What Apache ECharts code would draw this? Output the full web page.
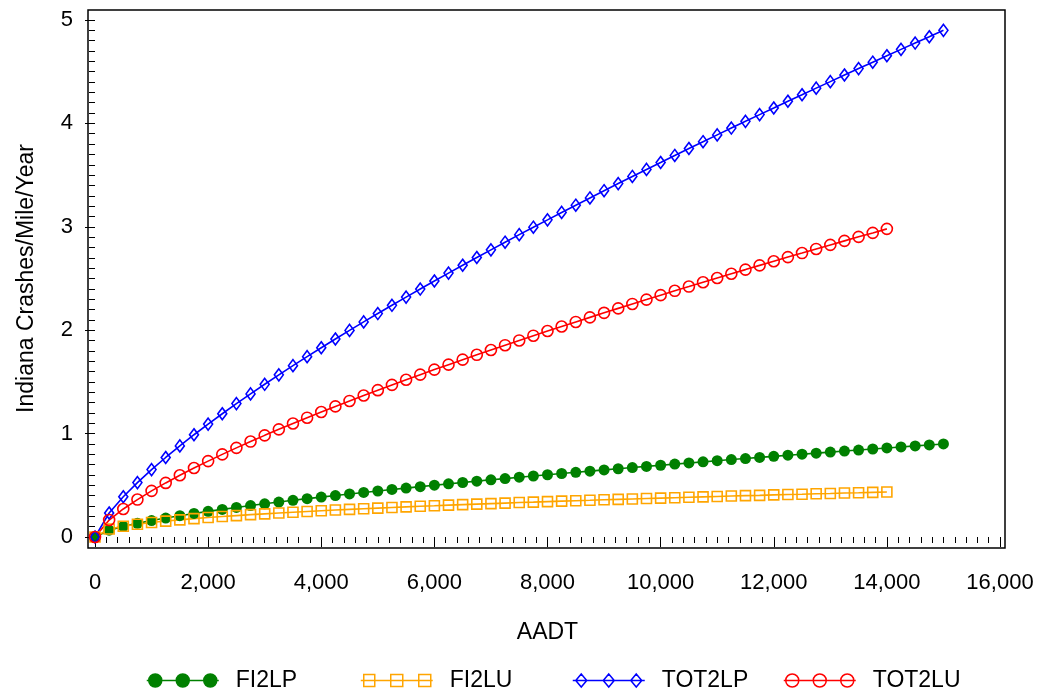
<!DOCTYPE html>
<html>
<head>
<meta charset="utf-8">
<script src="https://cdn.jsdelivr.net/npm/echarts@6/dist/echarts.min.js"></script>
<style>html,body{margin:0;padding:0;background:#fff;}#c{width:1044px;height:694px;}</style>
</head>
<body>
<div id="c"></div>
<script>
// AADT values (x)
var aadt = [0,250,500,750,1000,1250,1500,1750,2000,2250,2500,2750,3000,3250,3500,3750,4000,4250,4500,4750,5000,5250,5500,5750,6000,6250,6500,6750,7000,7250,7500,7750,8000,8250,8500,8750,9000,9250,9500,9750,10000,10250,10500,10750,11000,11250,11500,11750,12000,12250,12500,12750,13000,13250,13500,13750,14000,14250,14500,14750,15000];
var fi2lp = [0,0.066,0.102,0.132,0.159,0.183,0.206,0.228,0.248,0.267,0.286,0.304,0.321,0.338,0.355,0.371,0.386,0.401,0.416,0.431,0.445,0.460,0.473,0.487,0.501,0.514,0.527,0.540,0.553,0.565,0.578,0.590,0.602,0.614,0.626,0.637,0.649,0.660,0.672,0.683,0.694,0.705,0.716,0.727,0.738,0.749,0.759,0.770,0.780,0.791,0.801,0.811,0.821,0.831,0.841,0.851,0.861,0.871,0.881,0.890,0.900];
var fi2lu = [0,0.077,0.104,0.124,0.140,0.154,0.166,0.178,0.188,0.198,0.207,0.216,0.224,0.232,0.240,0.247,0.254,0.261,0.267,0.273,0.279,0.285,0.291,0.297,0.302,0.308,0.313,0.318,0.323,0.328,0.333,0.337,0.342,0.347,0.351,0.355,0.360,0.364,0.368,0.372,0.376,0.380,0.384,0.388,0.392,0.396,0.400,0.403,0.407,0.411,0.414,0.418,0.421,0.425,0.428,0.432,0.435];
var tot2lp = [0,0.232,0.389,0.526,0.652,0.769,0.881,0.989,1.092,1.192,1.290,1.384,1.477,1.568,1.657,1.744,1.830,1.915,1.998,2.080,2.161,2.241,2.320,2.398,2.476,2.552,2.628,2.703,2.777,2.851,2.924,2.996,3.067,3.139,3.209,3.279,3.349,3.418,3.487,3.555,3.622,3.690,3.757,3.823,3.889,3.955,4.020,4.085,4.149,4.214,4.277,4.341,4.404,4.468,4.530,4.592,4.654,4.716,4.777,4.838,4.900];
var tot2lu = [0,0.164,0.271,0.362,0.446,0.523,0.597,0.667,0.734,0.799,0.862,0.923,0.983,1.041,1.098,1.154,1.209,1.263,1.316,1.368,1.420,1.471,1.521,1.570,1.619,1.667,1.715,1.762,1.809,1.855,1.901,1.947,1.992,2.036,2.080,2.124,2.168,2.211,2.254,2.296,2.339,2.381,2.422,2.464,2.505,2.546,2.586,2.627,2.667,2.707,2.746,2.786,2.825,2.864,2.903,2.941,2.980];
var seriesNames = ['FI2LP','FI2LU','TOT2LP','TOT2LU'];
var xTicks = {min:0, max:16000, step:2000};
var yTicks = {min:0, max:5, step:1};

function pairs(vals){ return vals.map(function(v,i){ return [aadt[i], v]; }); }
function commas(v){ return String(v).replace(/\B(?=(\d{3})+(?!\d))/g, ','); }

var FONT = 'Liberation Sans, Arial, Helvetica, sans-serif';
var FS = 22;
var FSN = 23;
var colors = {FI2LP:'#008000', FI2LU:'#FFA500', TOT2LP:'#0000FF', TOT2LU:'#FF0000'};

var iconCircle = 'path://M0 7L72 7M15 7A6.5 6.5 0 1 1 2 7A6.5 6.5 0 1 1 15 7ZM42.5 7A6.5 6.5 0 1 1 29.5 7A6.5 6.5 0 1 1 42.5 7ZM70 7A6.5 6.5 0 1 1 57 7A6.5 6.5 0 1 1 70 7Z';
var iconSquare = 'path://M0 7L72 7M3 1L14 1L14 13L3 13ZM30 1L42 1L42 13L30 13ZM58 1L70 1L70 13L58 13Z';
var iconDiamond = 'path://M0 7L72 7M8.5 0.5L14 7L8.5 13.5L3 7ZM36 0.5L41.5 7L36 13.5L30.5 7ZM63.5 0.5L69 7L63.5 13.5L58 7Z';

function legendAt(left, name, icon, filled){
  return {
    left: left, top: 669, padding: 0, itemWidth: 72, itemHeight: 14, itemGap: 0,
    selectedMode: false,
    textStyle: {fontFamily: FONT, fontSize: FSN, color: '#000', padding: [0, 0, 0, 12]},
    data: [{name: name, icon: icon, itemStyle: {color: filled ? colors[name] : 'rgba(0,0,0,0)', borderColor: colors[name], borderWidth: 1.5}}]
  };
}

var chart = echarts.init(document.getElementById('c'), null, {renderer: 'canvas'});
var option = {
  animation: false,
  backgroundColor: '#fff',
  grid: [
    {left: 95, right: 44, top: 20, bottom: 157, containLabel: false},
    {left: 88, right: 39, top: 10, bottom: 146, show: true, borderColor: '#000', borderWidth: 1.5, backgroundColor: 'rgba(0,0,0,0)', z: 1}
  ],
  legend: [
    legendAt(146, 'FI2LP', iconCircle, true),
    legendAt(360, 'FI2LU', iconSquare, false),
    legendAt(572, 'TOT2LP', iconDiamond, false),
    legendAt(783, 'TOT2LU', iconCircle, false)
  ],
  xAxis: [
    {
      type: 'value', gridIndex: 0, min: xTicks.min, max: xTicks.max, interval: xTicks.step, offset: 11,
      name: 'AADT', nameLocation: 'middle', nameGap: 73,
      nameTextStyle: {fontFamily: FONT, fontSize: FSN, color: '#000'},
      axisLine: {show: false},
      axisTick: {show: true, length: 10, lineStyle: {color: '#000', width: 1}},
      minorTick: {show: true, splitNumber: 10, length: 6, lineStyle: {color: '#000', width: 1}},
      splitLine: {show: false},
      axisLabel: {fontFamily: FONT, fontSize: FS, color: '#000', margin: 24, formatter: function(v){ return commas(v); }}
    },
    {type: 'value', gridIndex: 1, show: false, min: 0, max: 1}
  ],
  yAxis: [
    {
      type: 'value', gridIndex: 0, min: yTicks.min, max: yTicks.max, interval: yTicks.step, offset: 7,
      name: 'Indiana Crashes/Mile/Year', nameLocation: 'middle', nameGap: 50,
      nameTextStyle: {fontFamily: FONT, fontSize: FSN, color: '#000'},
      axisLine: {show: false},
      axisTick: {show: true, length: 10, lineStyle: {color: '#000', width: 1}},
      minorTick: {show: true, splitNumber: 10, length: 6, lineStyle: {color: '#000', width: 1}},
      splitLine: {show: false},
      axisLabel: {fontFamily: FONT, fontSize: FS, color: '#000', margin: 15}
    },
    {type: 'value', gridIndex: 1, show: false, min: 0, max: 1}
  ],
  series: [
    {name: 'FI2LP', type: 'line', data: pairs(fi2lp), symbol: 'circle', symbolSize: 11, color: colors.FI2LP,
     lineStyle: {width: 1.6, color: colors.FI2LP}, itemStyle: {color: colors.FI2LP}, z: 3},
    {name: 'FI2LU', type: 'line', data: pairs(fi2lu), symbol: 'rect', symbolSize: 10, color: colors.FI2LU,
     lineStyle: {width: 1.6, color: colors.FI2LU}, itemStyle: {color: 'rgba(0,0,0,0)', borderColor: colors.FI2LU, borderWidth: 1.6}, z: 3},
    {name: 'TOT2LP', type: 'line', data: pairs(tot2lp), symbol: 'diamond', symbolSize: [9, 12], color: colors.TOT2LP,
     lineStyle: {width: 1.6, color: colors.TOT2LP}, itemStyle: {color: 'rgba(0,0,0,0)', borderColor: colors.TOT2LP, borderWidth: 1.6}, z: 3},
    {name: 'TOT2LU', type: 'line', data: pairs(tot2lu), symbol: 'circle', symbolSize: 11, color: colors.TOT2LU,
     lineStyle: {width: 1.6, color: colors.TOT2LU}, itemStyle: {color: 'rgba(0,0,0,0)', borderColor: colors.TOT2LU, borderWidth: 1.6}, z: 3}
  ]
};
chart.setOption(option);
</script>
</body>
</html>
